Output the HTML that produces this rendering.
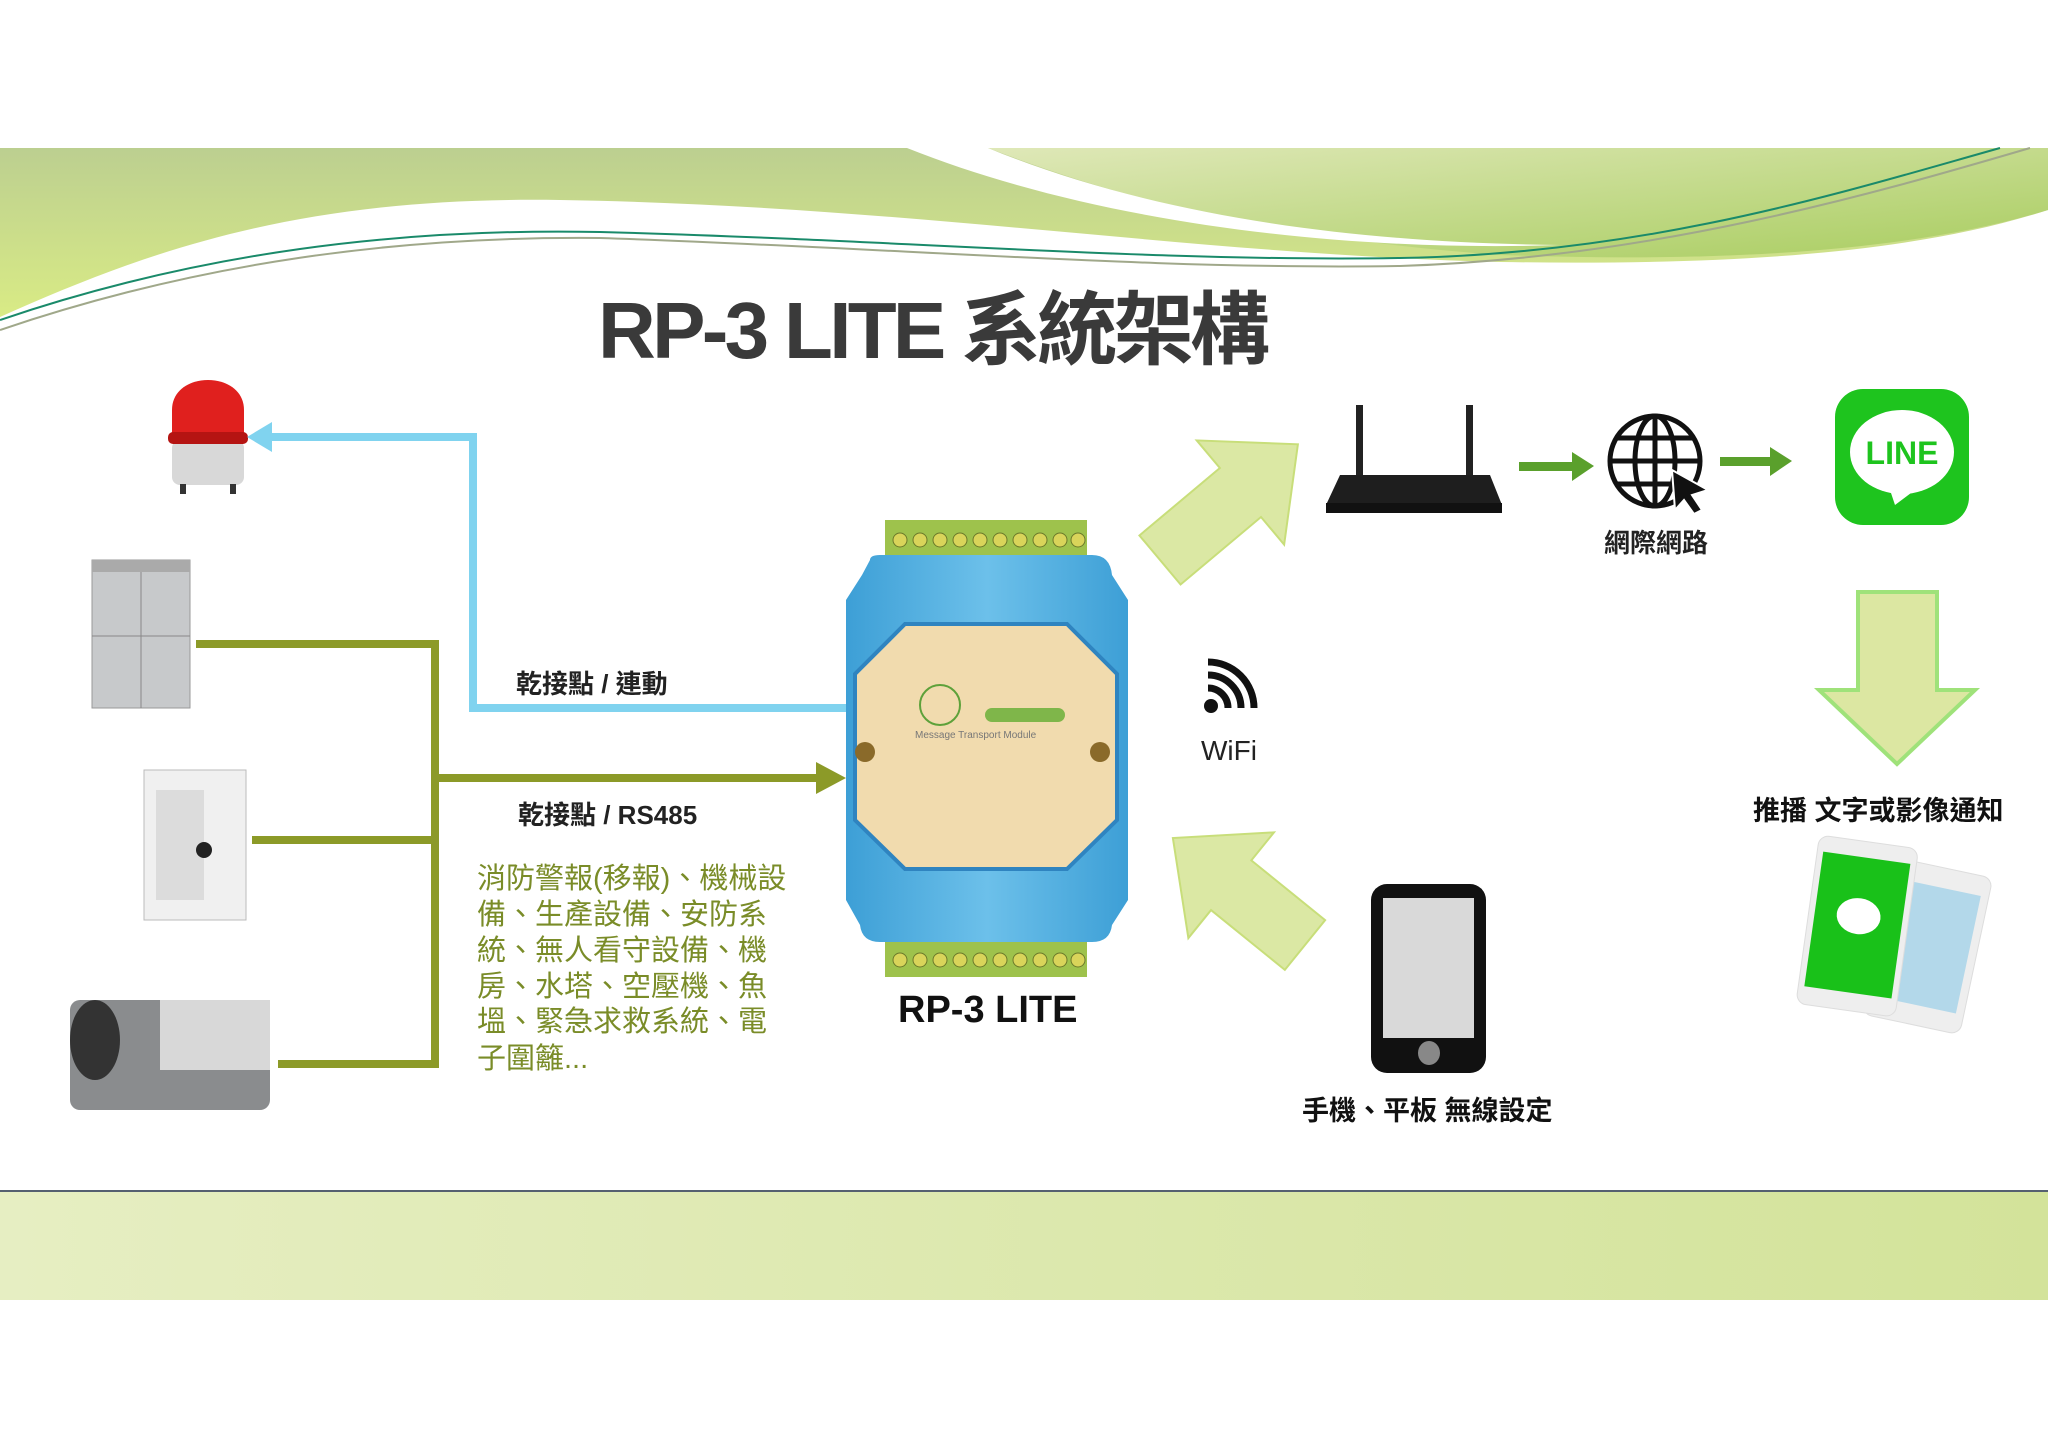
<!DOCTYPE html>
<html><head><meta charset="utf-8"><style>
html,body{margin:0;padding:0;background:#fff}
svg{display:block}
text{font-family:"Liberation Sans","Noto Sans CJK TC",sans-serif}
</style></head><body>
<svg width="2048" height="1448" viewBox="0 0 2048 1448" xmlns="http://www.w3.org/2000/svg">
<defs>
<linearGradient id="gb" x1="0" y1="0" x2="0" y2="1"><stop offset="0" stop-color="#bccf90"/><stop offset="1" stop-color="#d9eb85"/></linearGradient>
<linearGradient id="gr" x1="0" y1="0" x2="1" y2="1"><stop offset="0" stop-color="#dfe8b8"/><stop offset="1" stop-color="#a9cd60"/></linearGradient>
<linearGradient id="bb" x1="0" y1="0" x2="1" y2="0"><stop offset="0" stop-color="#e6eec2"/><stop offset="1" stop-color="#d3e39a"/></linearGradient>
<linearGradient id="blue" x1="0" y1="0" x2="1" y2="0"><stop offset="0" stop-color="#3d9fd6"/><stop offset="0.5" stop-color="#6cc0ea"/><stop offset="1" stop-color="#3d9fd6"/></linearGradient>
</defs>
<!-- top band -->
<path d="M0,148 H2048 V210 C1900,258 1700,265 1500,262 C1200,255 900,205 560,200 C300,196 150,250 0,317 Z" fill="url(#gb)"/>
<path d="M988,148 H2048 V210 C1900,255 1700,262 1500,255 C1300,240 1150,210 988,148Z" fill="url(#gr)"/>
<path d="M907,148 L988,148 C1150,215 1350,243 1560,245 C1350,252 1100,225 907,148Z" fill="#fff"/>
<path d="M0,320 C200,252 400,228 600,232 C900,240 1150,262 1400,258 C1650,254 1850,190 2000,148" fill="none" stroke="#1a8a6a" stroke-width="2"/>
<path d="M0,330 C200,262 400,236 600,238 C900,248 1150,270 1400,266 C1650,258 1870,195 2030,148" fill="none" stroke="#a0a88a" stroke-width="2"/>
<!-- bottom band -->
<rect x="0" y="1191" width="2048" height="109" fill="url(#bb)"/>
<rect x="0" y="1190" width="2048" height="2" fill="#556070"/>
<!-- title -->
<text x="598" y="358" font-size="80" font-weight="bold" fill="#3a3a3a" textLength="672">RP-3 LITE 系統架構</text>

<!-- beacon -->
<rect x="172" y="440" width="72" height="45" rx="8" fill="#d8d8d8"/>
<path d="M172,440 V410 C172,370 244,370 244,410 V440Z" fill="#e0201e"/>
<rect x="168" y="432" width="80" height="12" rx="5" fill="#b51412"/>
<rect x="180" y="484" width="6" height="10" fill="#333"/><rect x="230" y="484" width="6" height="10" fill="#333"/>
<!-- fridge -->
<rect x="92" y="560" width="98" height="148" fill="#c7c9cb" stroke="#999"/>
<line x1="141" y1="572" x2="141" y2="708" stroke="#888"/><line x1="92" y1="636" x2="190" y2="636" stroke="#888"/>
<rect x="92" y="560" width="98" height="12" fill="#aaa"/>
<!-- fire panel -->
<rect x="144" y="770" width="102" height="150" fill="#f0f0f0" stroke="#bbb"/>
<rect x="156" y="790" width="48" height="110" fill="#dcdcdc"/>
<circle cx="204" cy="850" r="8" fill="#222"/>
<!-- chiller -->
<rect x="70" y="1000" width="200" height="110" rx="10" fill="#8a8c8e"/>
<rect x="160" y="1000" width="110" height="70" fill="#d8d8d8"/>
<ellipse cx="95" cy="1040" rx="25" ry="40" fill="#333"/>

<!-- blue connector -->
<polyline points="846,708 473,708 473,437 262,437" fill="none" stroke="#80d3ef" stroke-width="8"/>
<polygon points="247,437 272,422 272,452" fill="#80d3ef"/>
<!-- olive connectors -->
<g fill="none" stroke="#8c9a28" stroke-width="8">
<polyline points="196,644 435,644 435,1064 278,1064"/>
<line x1="252" y1="840" x2="435" y2="840"/>
<line x1="435" y1="778" x2="820" y2="778"/>
</g>
<polygon points="846,778 816,762 816,794" fill="#8c9a28"/>
<text x="516" y="693" font-size="26" font-weight="bold" fill="#222">乾接點 / 連動</text>
<text x="518" y="824" font-size="26" font-weight="bold" fill="#222">乾接點 / RS485</text>
<g font-size="29" fill="#7a8c28">
<text x="477" y="888">消防警報(移報)、機械設</text>
<text x="477" y="924">備、生產設備、安防系</text>
<text x="477" y="960">統、無人看守設備、機</text>
<text x="477" y="996">房、水塔、空壓機、魚</text>
<text x="477" y="1031">塭、緊急求救系統、電</text>
<text x="477" y="1068">子圍籬...</text>
</g>

<!-- device -->
<rect x="885" y="520" width="202" height="38" fill="#9ec24c"/>
<g fill="#d9d45a" stroke="#6b7a2a">
<circle cx="900" cy="540" r="7"/><circle cx="920" cy="540" r="7"/><circle cx="940" cy="540" r="7"/><circle cx="960" cy="540" r="7"/><circle cx="980" cy="540" r="7"/><circle cx="1000" cy="540" r="7"/><circle cx="1020" cy="540" r="7"/><circle cx="1040" cy="540" r="7"/><circle cx="1060" cy="540" r="7"/><circle cx="1078" cy="540" r="7"/>
</g>
<rect x="885" y="940" width="202" height="37" fill="#9ec24c"/>
<g fill="#d9d45a" stroke="#6b7a2a">
<circle cx="900" cy="960" r="7"/><circle cx="920" cy="960" r="7"/><circle cx="940" cy="960" r="7"/><circle cx="960" cy="960" r="7"/><circle cx="980" cy="960" r="7"/><circle cx="1000" cy="960" r="7"/><circle cx="1020" cy="960" r="7"/><circle cx="1040" cy="960" r="7"/><circle cx="1060" cy="960" r="7"/><circle cx="1078" cy="960" r="7"/>
</g>
<path d="M870,560 Q870,555 880,555 H1092 Q1110,555 1112,575 L1128,600 V900 L1112,925 Q1110,942 1092,942 H880 Q862,942 860,925 L846,900 V600 L862,575Z" fill="url(#blue)"/>
<polygon points="905,624 1067,624 1117,674 1117,820 1067,869 905,869 855,820 855,674" fill="#f1dbae" stroke="#2f84c0" stroke-width="4"/>
<circle cx="865" cy="752" r="10" fill="#8a6a2a"/><circle cx="1100" cy="752" r="10" fill="#8a6a2a"/>
<circle cx="940" cy="705" r="20" fill="none" stroke="#5ea13a" stroke-width="2"/>
<rect x="985" y="708" width="80" height="14" rx="7" fill="#7fb64a"/>
<text x="915" y="738" font-size="10" fill="#777">Message Transport Module</text>
<text x="898" y="1022" font-size="38" font-weight="bold" fill="#111">RP-3 LITE</text>

<!-- big arrows -->
<polygon points="0,-32 105,-32 105,-68 180,0 105,68 105,32 0,32" fill="#dbe8a4" stroke="#c8de7a" stroke-width="2" transform="translate(1160,560) rotate(-40)"/>
<polygon points="0,-32 95,-32 95,-68 170,0 95,68 95,32 0,32" fill="#dbe8a4" stroke="#c8de7a" stroke-width="2" transform="translate(1305,945) rotate(-141)"/>
<polygon points="1858,592 1937,592 1937,690 1975,690 1897,764 1819,690 1858,690" fill="#dce7a2" stroke="#9fe27a" stroke-width="4"/>

<!-- router -->
<rect x="1356" y="405" width="7" height="70" fill="#222"/><rect x="1466" y="405" width="7" height="70" fill="#222"/>
<polygon points="1340,475 1490,475 1502,505 1326,505" fill="#1e1e1e"/>
<rect x="1326" y="503" width="176" height="10" fill="#111"/>
<!-- small green arrows -->
<rect x="1519" y="462" width="55" height="9" fill="#5aa02c"/><polygon points="1572,452 1594,466 1572,481" fill="#5aa02c"/>
<rect x="1720" y="457" width="52" height="9" fill="#5aa02c"/><polygon points="1770,447 1792,461 1770,476" fill="#5aa02c"/>
<!-- globe -->
<g fill="none" stroke="#111" stroke-width="5">
<circle cx="1655" cy="461" r="45"/>
<ellipse cx="1655" cy="461" rx="20" ry="45"/>
<line x1="1655" y1="416" x2="1655" y2="506"/>
<line x1="1610" y1="461" x2="1700" y2="461"/>
<path d="M1616,438 H1694 M1616,484 H1694"/>
</g>
<polygon points="1672,470 1708,490 1692,495 1702,510 1694,514 1684,500 1675,510" fill="#111" stroke="#fff" stroke-width="2"/>
<text x="1656" y="552" font-size="26" font-weight="bold" fill="#222" text-anchor="middle">網際網路</text>
<!-- LINE icon -->
<rect x="1835" y="389" width="134" height="136" rx="28" fill="#1ec41e"/>
<ellipse cx="1902" cy="452" rx="52" ry="42" fill="#fff"/>
<polygon points="1890,490 1915,490 1895,505" fill="#fff"/>
<text x="1902" y="464" font-size="32" font-weight="bold" fill="#1ec41e" text-anchor="middle">LINE</text>
<text x="1753" y="820" font-size="27" font-weight="bold" fill="#111">推播 文字或影像通知</text>
<!-- phones -->
<g transform="rotate(12 1900 930)">
<rect x="1880" y="860" width="100" height="160" rx="10" fill="#eee" stroke="#ddd"/>
<rect x="1888" y="880" width="84" height="120" fill="#b3d8ea"/>
</g>
<g transform="rotate(8 1850 920)">
<rect x="1808" y="840" width="100" height="170" rx="10" fill="#eee" stroke="#ddd"/>
<rect x="1814" y="856" width="88" height="136" fill="#19c119"/>
<ellipse cx="1858" cy="915" rx="22" ry="18" fill="#fff"/>
</g>
<!-- wifi -->
<circle cx="1211" cy="706" r="7" fill="#111"/>
<g fill="none" stroke="#111" stroke-width="7">
<path d="M1208,688 A20,20 0 0 1 1228,708"/>
<path d="M1208,675 A33,33 0 0 1 1241,708"/>
<path d="M1208,662 A46,46 0 0 1 1254,708"/>
</g>
<text x="1201" y="760" font-size="28" fill="#222">WiFi</text>
<!-- phone -->
<rect x="1371" y="884" width="115" height="189" rx="16" fill="#111"/>
<rect x="1383" y="898" width="91" height="140" fill="#d9d9d9"/>
<ellipse cx="1429" cy="1053" rx="11" ry="12" fill="#888"/>
<text x="1302" y="1120" font-size="27" font-weight="bold" fill="#111">手機、平板 無線設定</text>
</svg>
</body></html>
